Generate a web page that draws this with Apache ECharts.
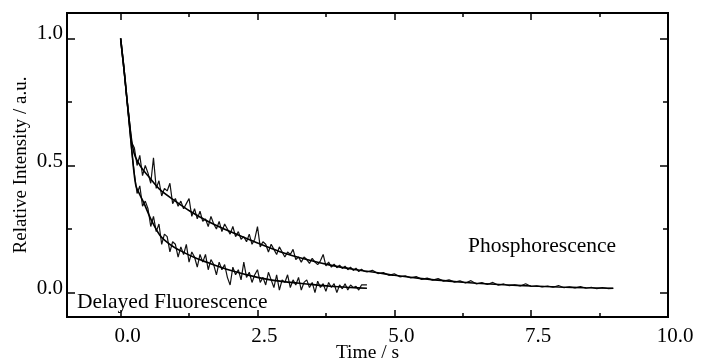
<!DOCTYPE html>
<html>
<head>
<meta charset="utf-8">
<script src="https://cdn.jsdelivr.net/npm/echarts@6/dist/echarts.min.js"></script>
<style>
html, body { margin: 0; padding: 0; background: #fff; }
#main { width: 702px; height: 359px; }
</style>
</head>
<body>
<div id="main"></div>
<script>
// sample times (s)
const earlyTime = [0,0.05,0.1,0.15,0.2,0.25,0.3,0.35,0.4,0.45,0.5,0.55,0.6,0.65,0.7,0.75,0.8,0.85,0.9,0.95,
	1,1.05,1.1,1.15,1.2,1.25,1.3,1.35,1.4,1.45,1.5,1.55,1.6,1.65,1.7,1.75,1.8,1.85,1.9,1.95,
	2,2.05,2.1,2.15,2.2,2.25,2.3,2.35,2.4,2.45,2.5,2.55,2.6,2.65,2.7,2.75,2.8,2.85,2.9,2.95,
	3,3.05,3.1,3.15,3.2,3.25,3.3,3.35,3.4,3.45,3.5,3.55,3.6,3.65,3.7,3.75,3.8,3.85,3.9,3.95,
	4,4.05,4.1,4.15,4.2,4.25,4.3,4.35,4.4,4.45,4.5];
const lateTime = [4.6,4.7,4.8,4.9,5,5.1,5.2,5.3,5.4,5.5,5.6,5.7,5.8,5.9,6,6.1,6.2,6.3,6.4,6.5,
	6.6,6.7,6.8,6.9,7,7.1,7.2,7.3,7.4,7.5,7.6,7.7,7.8,7.9,8,8.1,8.2,8.3,8.4,8.5,8.6,8.7,8.8,8.9,9];

// phosphorescence, measured
const phosEarly = [1.00,0.91,0.79,0.70,0.59,0.57,0.50,0.54,0.46,0.50,0.47,0.43,0.53,0.41,0.44,0.38,0.41,0.40,0.43,0.35,
	0.37,0.34,0.36,0.33,0.35,0.37,0.30,0.33,0.29,0.32,0.28,0.29,0.26,0.30,0.27,0.25,0.28,0.24,0.27,0.25,
	0.23,0.26,0.22,0.24,0.21,0.22,0.20,0.23,0.19,0.21,0.26,0.18,0.20,0.19,0.16,0.19,0.17,0.15,0.18,0.16,
	0.14,0.16,0.15,0.17,0.13,0.14,0.12,0.14,0.13,0.115,0.135,0.12,0.11,0.125,0.15,0.105,0.12,0.10,0.112,0.098,
	0.108,0.095,0.104,0.09,0.10,0.087,0.096,0.083,0.092,0.084,0.081];
const phosLate = [0.088,0.075,0.079,0.068,0.074,0.062,0.066,0.058,0.063,0.052,0.057,0.049,0.055,0.045,0.05,0.041,0.046,0.038,0.047,0.034,
	0.039,0.032,0.04,0.029,0.034,0.027,0.031,0.026,0.035,0.024,0.027,0.022,0.026,0.021,0.028,0.019,0.023,0.018,0.024,0.017,
	0.021,0.015,0.02,0.016,0.017];

// delayed fluorescence, measured
const flData = [0.99,0.90,0.79,0.68,0.56,0.47,0.39,0.42,0.34,0.36,0.33,0.26,0.30,0.24,0.27,0.19,0.23,0.22,0.16,0.20,
	0.19,0.14,0.18,0.15,0.19,0.12,0.16,0.14,0.10,0.15,0.12,0.15,0.09,0.13,0.11,0.07,0.12,0.09,0.11,0.06,
	0.03,0.10,0.07,0.09,0.05,0.12,0.06,0.08,0.04,0.07,0.09,0.04,0.06,0.03,0.08,0.05,0.02,0.07,0.01,0.05,
	0.04,0.07,0.02,0.05,0.03,0.06,0.01,0.04,0.05,0.02,0.04,0.00,0.045,0.02,0.035,0.005,0.04,0.02,0.035,0.00,
	0.03,0.015,0.035,0.01,0.03,0.02,0.025,0.01,0.03,0.03,0.03];

// fitted curves
const phosFitTime = [0,0.04,0.08,0.12,0.16,0.2,0.25,0.3,0.4,0.5,0.72,1.0,1.27,1.6,2.0,2.5,2.91,3.4,3.83,4.3,4.7,5.0,5.5,6.0,6.5,7.0,7.5,8.0,8.5,9.0];
const phosFitData = [1.0,0.92,0.84,0.75,0.67,0.60,0.545,0.52,0.485,0.46,0.405,0.36,0.32,0.28,0.24,0.195,0.161,0.13,0.108,0.09,0.078,0.068,0.055,0.045,0.037,0.031,0.026,0.022,0.019,0.017];
const flFitTime = [0,0.04,0.08,0.12,0.16,0.2,0.24,0.28,0.35,0.42,0.55,0.72,0.9,1.09,1.35,1.63,2.0,2.5,2.91,3.4,3.83,4.2,4.5];
const flFitData = [1.0,0.92,0.84,0.75,0.66,0.57,0.48,0.42,0.385,0.355,0.29,0.225,0.19,0.165,0.138,0.115,0.088,0.06,0.045,0.034,0.025,0.02,0.017];

// axes
const xMajor = [0, 2.5, 5, 7.5, 10];
const xMinor = [1.25, 3.75, 6.25, 8.75];
const yMajor = [0, 0.5, 1.0];
const yMinor = [0.25, 0.75];

const font = 'Liberation Serif';
const xMin = -0.98, xMax = 10.0, yMin = -0.096, yMax = 1.10;

function pairs(t, v) {
	return t.map((x, i) => [x, v[i]]);
}

function xAxisCfg(pos, ticks, len, withLabel) {
	const ax = {
		type: 'value', position: pos, min: xMin, max: xMax,
		axisLine: { show: true, onZero: false, lineStyle: { color: '#000', width: 2 } },
		axisTick: { show: true, inside: true, length: len, customValues: ticks, lineStyle: { color: '#000', width: 1.5 } },
		axisLabel: { show: false },
		splitLine: { show: false }
	};
	if (withLabel) {
		ax.axisLabel = {
			show: true, customValues: xMajor, margin: 9, padding: [0, 0, 0, 14],
			color: '#000', fontFamily: font, fontSize: 21,
			formatter: v => v.toFixed(1)
		};
		ax.name = 'Time / s';
		ax.nameLocation = 'middle';
		ax.nameGap = 26;
		ax.nameMoveOverlap = false;
		ax.nameTextStyle = { color: '#000', fontFamily: font, fontSize: 19.5 };
	}
	return ax;
}

function yAxisCfg(pos, ticks, len, withLabel) {
	const ax = {
		type: 'value', position: pos, min: yMin, max: yMax,
		axisLine: { show: true, onZero: false, lineStyle: { color: '#000', width: 2 } },
		axisTick: { show: true, inside: true, length: len, customValues: ticks, lineStyle: { color: '#000', width: 1.5 } },
		axisLabel: { show: false },
		splitLine: { show: false }
	};
	if (withLabel) {
		ax.axisLabel = {
			show: true, customValues: yMajor, margin: 4,
			verticalAlign: 'bottom', lineHeight: 9,
			color: '#000', fontFamily: font, fontSize: 21,
			formatter: v => v.toFixed(1)
		};
		ax.name = 'Relative Intensity / a.u.';
		ax.nameLocation = 'middle';
		ax.nameGap = 36;
		ax.nameMoveOverlap = false;
		ax.nameTextStyle = { color: '#000', fontFamily: font, fontSize: 19 };
	}
	return ax;
}

var myChart = echarts.init(document.querySelector('#main'));

var option = {
	animation: false,
	backgroundColor: '#fff',
	grid: { left: 67, right: 34, top: 13, bottom: 42, containLabel: false, outerBoundsMode: 'none' },
	xAxis: [
		xAxisCfg('bottom', xMajor.slice(0, 4), 7, true),
		xAxisCfg('bottom', xMinor, 4, false),
		xAxisCfg('top', xMajor.slice(0, 4), 7, false),
		xAxisCfg('top', xMinor, 4, false)
	],
	yAxis: [
		yAxisCfg('left', yMajor, 8, true),
		yAxisCfg('left', yMinor, 5, false),
		yAxisCfg('right', yMajor, 8, false),
		yAxisCfg('right', yMinor, 5, false)
	],
	series: [
		{
			name: 'Phosphorescence', type: 'line', showSymbol: false,
			data: pairs(earlyTime.concat(lateTime), phosEarly.concat(phosLate)),
			lineStyle: { color: '#111', width: 1.2 }
		},
		{
			name: 'Delayed Fluorescence', type: 'line', showSymbol: false,
			data: pairs(earlyTime, flData),
			lineStyle: { color: '#111', width: 1.2 }
		},
		{
			name: 'Phosphorescence fit', type: 'line', showSymbol: false, smooth: 0.3,
			data: pairs(phosFitTime, phosFitData),
			lineStyle: { color: '#000', width: 1.6 }
		},
		{
			name: 'Delayed Fluorescence fit', type: 'line', showSymbol: false, smooth: 0.3,
			data: pairs(flFitTime, flFitData),
			lineStyle: { color: '#000', width: 1.6 }
		}
	],
	graphic: [
		{ type: 'text', x: 468, y: 246, style: { text: 'Phosphorescence', fill: '#000', fontFamily: font, fontSize: 21.5, verticalAlign: 'middle' } },
		{ type: 'text', x: 77, y: 302, style: { text: 'Delayed Fluorescence', fill: '#000', fontFamily: font, fontSize: 21.5, verticalAlign: 'middle' } }
	]
};

myChart.setOption(option);
</script>
</body>
</html>
